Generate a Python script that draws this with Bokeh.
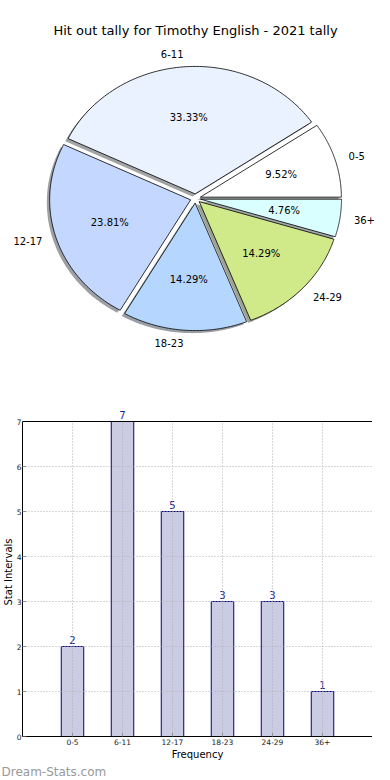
import numpy as np
from bokeh.plotting import figure
from bokeh.models import (ColumnDataSource, Label, FactorRange, Range1d,
                          Title, BoxAnnotation)
from bokeh.core.properties import value
from bokeh.embed import file_html
from bokeh.resources import INLINE

# ---------------- data ----------------
title_text = "Hit out tally for Timothy English - 2021 tally"
categories = ["0-5", "6-11", "12-17", "18-23", "24-29", "36+"]
counts = [2, 7, 5, 3, 3, 1]
pie_colors = ["#ffffff", "#eaf1ff", "#c4d8ff", "#b4d6ff", "#d0ea8a", "#d9ffff"]
y_ticks = [0, 1, 2, 3, 4, 5, 6, 7]
y_max = 7
x_label = "Frequency"
y_label = "Stat Intervals"
watermark = "Dream-Stats.com"

# ---------------- style ----------------
FONT = "DejaVu Sans"
EXPLODE = 0.036
SHADOW_OFF = 0.02
LABEL_DIST = 1.1
PCT_DIST = 0.6

# ---------------- pie geometry from data ----------------
vals = np.array(counts, dtype=float)
fracs = vals / vals.sum()
ends = 2 * np.pi * np.cumsum(fracs)
starts = ends - 2 * np.pi * fracs
mids = (starts + ends) / 2
ox = EXPLODE * np.cos(mids)
oy = EXPLODE * np.sin(mids)


def wedge_poly(x0, y0, a0, a1, n=90):
    t = np.linspace(a0, a1, n)
    xs = np.concatenate([[x0], x0 + np.cos(t), [x0]])
    ys = np.concatenate([[y0], y0 + np.sin(t), [y0]])
    return list(xs), list(ys)


wx, wy, sx, sy, shade = [], [], [], [], []
for i in range(len(categories)):
    a, b_ = wedge_poly(ox[i], oy[i], starts[i], ends[i])
    wx.append(a)
    wy.append(b_)
    c, d = wedge_poly(ox[i] - SHADOW_OFF, oy[i] - SHADOW_OFF, starts[i], ends[i])
    sx.append(c)
    sy.append(d)
    h = pie_colors[i].lstrip("#")
    r, g, bb = (int(h[k:k + 2], 16) for k in (0, 2, 4))
    shade.append("#%02x%02x%02x" % (int(r * 0.3), int(g * 0.3), int(bb * 0.3)))

wedge_src = ColumnDataSource(dict(xs=wx, ys=wy, color=pie_colors))
shadow_src = ColumnDataSource(dict(xs=sx, ys=sy, color=shade))

lx = ox + LABEL_DIST * np.cos(mids)
ly = oy + LABEL_DIST * np.sin(mids)
label_src = ColumnDataSource(dict(
    x=lx, y=ly, text=categories,
    align=["left" if v > 0 else "right" for v in lx]))
pct_src = ColumnDataSource(dict(
    x=ox + PCT_DIST * np.cos(mids), y=oy + PCT_DIST * np.sin(mids),
    text=["%.2f%%" % (f * 100) for f in fracs]))

# ---------------- pie figure ----------------
AX_H = 315            # pixel height of the 0..7 axes box
TOP_EXTRA = 14        # room above the box for the value labels
PW, PH = 390, 421 - TOP_EXTRA
RX, RY = 141.0, 127.5
CXS, CYS = 195.0, 198.0
p = figure(frame_width=PW, frame_height=PH, output_backend="svg",
           toolbar_location=None,
           x_range=Range1d(-CXS / RX, (PW - CXS) / RX),
           y_range=Range1d(-(PH - CYS) / RY, CYS / RY),
           x_axis_type=None, y_axis_type=None, min_border=0,
           min_border_left=0, min_border_right=0, min_border_top=0,
           min_border_bottom=0)
p.grid.visible = False
p.outline_line_color = None
p.patches("xs", "ys", source=shadow_src, fill_color="color", fill_alpha=0.5,
          line_color=None)
p.patches("xs", "ys", source=wedge_src, fill_color="color", line_color="black",
          line_width=0.8)
p.text("x", "y", text="text", source=label_src, text_align="align",
       text_baseline="middle", text_font=value(FONT), text_font_size="10px",
       text_color="black")
p.text("x", "y", text="text", source=pct_src, text_align="center",
       text_baseline="middle", text_font=value(FONT), text_font_size="10px",
       text_color="black")
p.add_layout(Label(x=CXS, y=PH - 30, x_units="screen", y_units="screen",
                   text=title_text, text_align="center", text_baseline="middle",
                   text_font=FONT, text_font_size="13px", text_color="black"))

# ---------------- bar figure ----------------
y_top = y_max + TOP_EXTRA * y_max / AX_H
bar_src = ColumnDataSource(dict(cat=categories, count=counts,
                                txt=[str(c) for c in counts]))
b = figure(frame_width=350, frame_height=AX_H + TOP_EXTRA, output_backend="svg",
           toolbar_location=None,
           x_range=FactorRange(*categories, range_padding=0.5,
                               range_padding_units="absolute"),
           y_range=Range1d(0, y_top),
           min_border_left=0, min_border_right=0, min_border_top=0,
           min_border_bottom=0)
b.vbar(x="cat", top="count", width=0.45, source=bar_src,
       fill_color="#cbcbe3", line_color="#000080", line_width=1)
b.text(x="cat", y="count", text="txt", source=bar_src,
       text_align="center", text_baseline="bottom", y_offset=-3,
       text_font=value(FONT), text_font_size="10px", text_color="#1c1c96")

b.outline_line_color = None
b.grid.grid_line_color = "#b0b0b0"
b.grid.grid_line_dash = "1 2"
b.grid.grid_line_width = 1
b.grid.level = "overlay"
try:
    b.xgrid.cross_bounds = (0, y_max)
except Exception:
    pass
b.ygrid.bounds = (0, y_max)
b.yaxis.ticker = y_ticks
b.yaxis.bounds = (0, y_max)
box = BoxAnnotation(bottom=0, top=y_max, fill_color=None, fill_alpha=0,
                    line_color="black", line_width=1, line_alpha=1)
box.level = "overlay"
b.add_layout(box)

for ax in (b.xaxis[0], b.yaxis[0]):
    ax.major_tick_in = 4
    ax.major_tick_out = 0
    ax.minor_tick_line_color = None
    ax.major_tick_line_color = "#888888"
    ax.axis_line_color = "black"
    ax.major_label_text_font = FONT
    ax.major_label_text_color = "#222222"
    ax.major_label_text_font_size = "7.5px"
    ax.major_label_standoff = 2
b.yaxis.major_label_standoff = 1
b.xaxis.axis_label = x_label
b.xaxis.axis_label_text_font = FONT
b.xaxis.axis_label_text_font_size = "10px"
b.xaxis.axis_label_text_font_style = "normal"
b.xaxis.axis_label_text_color = "black"
b.xaxis.axis_label_standoff = 1

b.add_layout(Title(text=y_label, align="center", standoff=0,
                   text_font=FONT, text_font_size="10px",
                   text_font_style="normal", text_color="black"), "left")
b.add_layout(Title(text=watermark, align="left", offset=-21, standoff=0,
                   text_font=FONT, text_font_size="12px",
                   text_font_style="normal", text_color="#999999"), "below")

open("out.html", "w").write(file_html([p, b], INLINE))
